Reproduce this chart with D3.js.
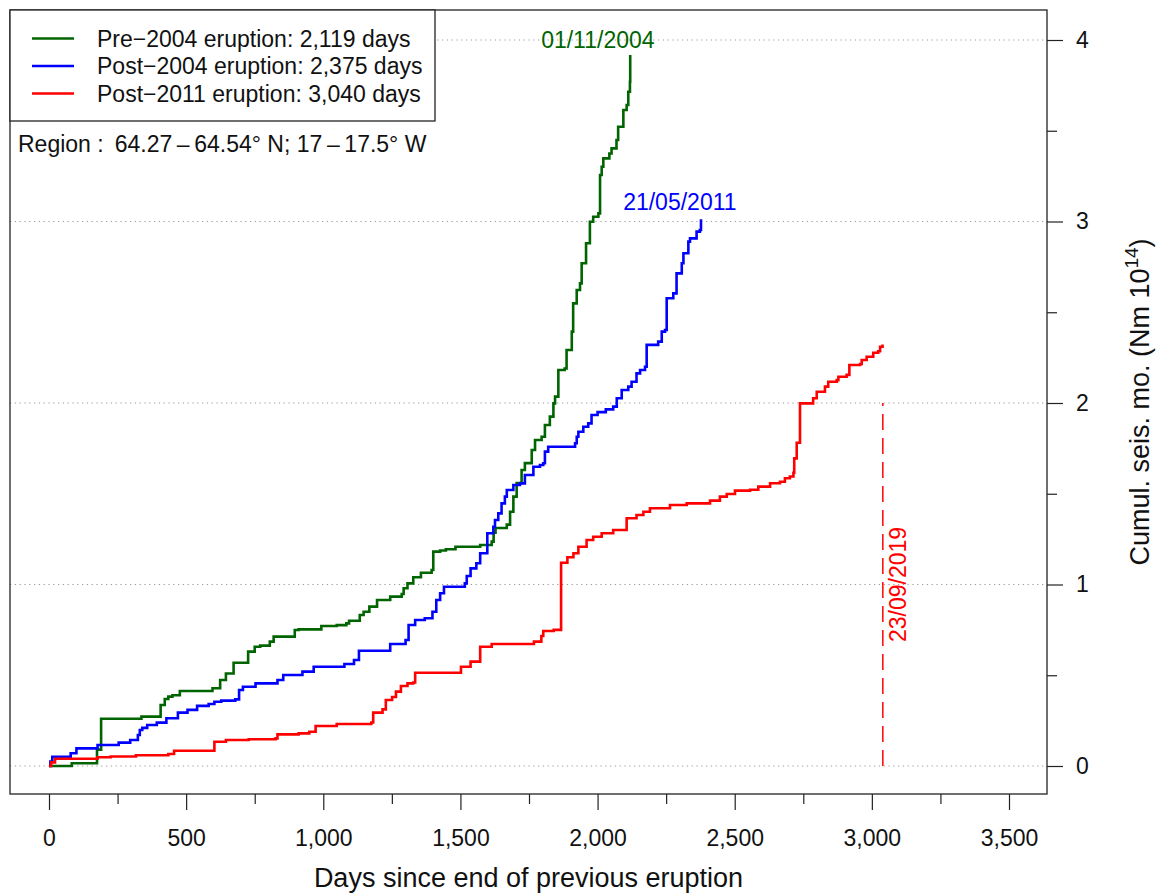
<!DOCTYPE html>
<html>
<head>
<meta charset="utf-8">
<script src="https://cdn.jsdelivr.net/npm/d3@7.9.0/dist/d3.min.js"></script>
<style>
  body { margin: 0; background: #fff; }
  svg text { font-family: "Liberation Sans", Arial, Helvetica, sans-serif; }
</style>
</head>
<body>
<svg id="chart" width="1159" height="894"></svg>
<script>
// series: [day, cumulative seismic moment (10^14 Nm)] step points
const pre2004 = [
  [0, 0], [83, 0.015], [175, 0.09], [190, 0.26], [337, 0.272], [407, 0.336], [422, 0.369],
  [435, 0.382], [450, 0.39], [477, 0.413], [596, 0.428], [624, 0.474], [645, 0.51],
  [673, 0.569], [726, 0.63], [750, 0.657], [770, 0.663], [805, 0.685], [819, 0.713],
  [896, 0.749], [910, 0.753], [993, 0.771], [1049, 0.776], [1084, 0.786], [1094, 0.8],
  [1133, 0.832], [1147, 0.85], [1168, 0.878], [1196, 0.915], [1244, 0.933], [1286, 0.948],
  [1293, 0.979], [1307, 1.006], [1328, 1.04], [1356, 1.065], [1395, 1.08], [1401, 1.181],
  [1426, 1.187], [1447, 1.194], [1482, 1.208], [1572, 1.218], [1614, 1.236], [1621, 1.286],
  [1628, 1.311], [1669, 1.33], [1681, 1.401], [1693, 1.484], [1705, 1.559], [1723, 1.631],
  [1735, 1.669], [1760, 1.741], [1772, 1.796], [1796, 1.814], [1808, 1.879], [1826, 1.925],
  [1839, 1.998], [1845, 2.035], [1857, 2.182], [1880, 2.19], [1887, 2.292], [1906, 2.393],
  [1911, 2.549], [1924, 2.623], [1936, 2.659], [1942, 2.77], [1958, 2.88], [1972, 2.999],
  [1984, 3.026], [2003, 3.045], [2009, 3.256], [2015, 3.302], [2021, 3.348], [2043, 3.375],
  [2051, 3.403], [2069, 3.449], [2075, 3.522], [2094, 3.614], [2106, 3.642], [2112, 3.715],
  [2118, 3.77], [2119, 3.917]
];
const post2004 = [
  [0, 0], [5, 0.025], [12, 0.051], [79, 0.07], [100, 0.097], [177, 0.116], [254, 0.129],
  [296, 0.143], [324, 0.171], [331, 0.198], [340, 0.21], [358, 0.226], [393, 0.239],
  [428, 0.263], [470, 0.294], [505, 0.309], [540, 0.331], [582, 0.342], [603, 0.354],
  [628, 0.36], [679, 0.367], [693, 0.419], [707, 0.437], [753, 0.455], [833, 0.474],
  [854, 0.501], [924, 0.52], [965, 0.547], [1077, 0.562], [1112, 0.584], [1130, 0.635],
  [1244, 0.672], [1300, 0.694], [1311, 0.777], [1335, 0.804], [1370, 0.814], [1398, 0.85],
  [1412, 0.915], [1426, 0.952], [1440, 0.988], [1516, 1.006], [1523, 1.047], [1537, 1.089],
  [1558, 1.117], [1572, 1.172], [1598, 1.282], [1620, 1.318], [1626, 1.355], [1638, 1.392],
  [1650, 1.447], [1662, 1.484], [1669, 1.521], [1693, 1.548], [1717, 1.557], [1735, 1.603],
  [1766, 1.649], [1790, 1.658], [1802, 1.668], [1808, 1.732], [1820, 1.759], [1918, 1.778],
  [1924, 1.814], [1930, 1.842], [1948, 1.869], [1966, 1.888], [1978, 1.934], [2000, 1.95],
  [2030, 1.965], [2057, 1.98], [2070, 2.026], [2088, 2.072], [2112, 2.09], [2124, 2.117],
  [2142, 2.163], [2155, 2.182], [2173, 2.2], [2179, 2.32], [2221, 2.338], [2234, 2.393],
  [2246, 2.402], [2252, 2.577], [2276, 2.604], [2288, 2.714], [2307, 2.77], [2313, 2.825],
  [2331, 2.889], [2337, 2.907], [2361, 2.944], [2373, 2.953], [2377, 3.012]
];
const post2011 = [
  [0, 0], [8, 0.02], [22, 0.04], [177, 0.048], [225, 0.052], [317, 0.059], [435, 0.066],
  [456, 0.084], [603, 0.134], [645, 0.143], [728, 0.147], [826, 0.152], [833, 0.174],
  [910, 0.18], [949, 0.189], [972, 0.22], [1049, 0.231], [1175, 0.24], [1182, 0.294],
  [1216, 0.312], [1228, 0.364], [1251, 0.38], [1265, 0.41], [1283, 0.441], [1307, 0.455],
  [1328, 0.46], [1335, 0.514], [1502, 0.547], [1537, 0.575], [1572, 0.657], [1614, 0.672],
  [1768, 0.685], [1795, 0.716], [1802, 0.744], [1840, 0.75], [1867, 1.12], [1890, 1.15],
  [1912, 1.172], [1930, 1.208], [1960, 1.245], [1984, 1.263], [2015, 1.282], [2057, 1.3],
  [2106, 1.365], [2142, 1.383], [2167, 1.401], [2191, 1.42], [2264, 1.438], [2325, 1.447],
  [2410, 1.462], [2446, 1.484], [2471, 1.499], [2501, 1.517], [2556, 1.522], [2586, 1.539],
  [2629, 1.558], [2665, 1.566], [2683, 1.585], [2701, 1.595], [2714, 1.616], [2717, 1.695],
  [2726, 1.781], [2738, 1.998], [2786, 2.026], [2799, 2.062], [2829, 2.09], [2841, 2.117],
  [2872, 2.126], [2878, 2.145], [2908, 2.155], [2918, 2.209], [2957, 2.215], [2963, 2.237],
  [2981, 2.255], [3005, 2.277], [3023, 2.285], [3030, 2.31], [3039, 2.323]
];

const seriesNames = ['Pre\u22122004 eruption: 2,119 days', 'Post\u22122004 eruption: 2,375 days', 'Post\u22122011 eruption: 3,040 days'];
const seriesColors = ['#006400', '#0000ff', '#ff0000'];
const endLabels = ['01/11/2004', '21/05/2011', '23/09/2019'];
const endLabelPos = [[2001, 4.0], [2300, 3.107], [3040, 1.0]];
const forecastDay = 3040, forecastTop = 2;

const xMajor = d3.range(0, 3501, 500);
const xMinor = d3.range(250, 3500, 500);
const yMajor = [0, 1, 2, 3, 4];
const yMinor = [0.5, 1.5, 2.5, 3.5];

const svg = d3.select('#chart');
const box = { left: 10, right: 1047, top: 10, bottom: 794 };

let x = d3.scaleLinear().domain([0, 3500]).range([49, 1009]);
let y = d3.scaleLinear().domain([0, 4]).range([766, 40]);

// dotted grid lines
svg.append('g')
  .selectAll('line')
  .data(yMajor)
  .join('line')
  .attr('x1', box.left).attr('x2', box.right)
  .attr('y1', d => y(d)).attr('y2', d => y(d))
  .attr('stroke', '#9a9a9a')
  .attr('stroke-width', 1.2)
  .attr('stroke-dasharray', '1.2,3.6');

// curves
let line = d3.line().x(d => x(d[0])).y(d => y(d[1])).curve(d3.curveStepAfter);
[pre2004, post2004, post2011].forEach((s, i) => {
  svg.append('path')
    .attr('d', line(s))
    .attr('fill', 'none')
    .attr('stroke', seriesColors[i])
    .attr('stroke-width', 2.6);
});

// forecast dashed line
svg.append('line')
  .attr('x1', x(forecastDay)).attr('x2', x(forecastDay))
  .attr('y1', y(0)).attr('y2', y(forecastTop))
  .attr('stroke', '#ff0000')
  .attr('stroke-width', 1.5)
  .attr('stroke-dasharray', '16,8');

// end labels
svg.append('text')
  .attr('x', x(endLabelPos[0][0])).attr('y', y(endLabelPos[0][1]) + 8)
  .attr('text-anchor', 'middle').attr('font-size', 23).attr('fill', seriesColors[0])
  .text(endLabels[0]);
svg.append('text')
  .attr('x', x(endLabelPos[1][0])).attr('y', y(endLabelPos[1][1]) + 8)
  .attr('text-anchor', 'middle').attr('font-size', 23).attr('fill', seriesColors[1])
  .text(endLabels[1]);
svg.append('text')
  .attr('transform', `translate(${x(endLabelPos[2][0]) + 23.5},${y(endLabelPos[2][1])}) rotate(-90)`)
  .attr('text-anchor', 'middle').attr('font-size', 23).attr('fill', seriesColors[2])
  .text(endLabels[2]);

// x axis
let xAxis = svg.append('g').attr('transform', `translate(0,${box.bottom})`);
xAxis.call(d3.axisBottom(x).tickValues(xMajor).tickSize(16).tickPadding(20).tickFormat(d3.format(',')));
xAxis.append('g').call(d3.axisBottom(x).tickValues(xMinor).tickSize(10).tickFormat(''));
xAxis.selectAll('.domain').remove();
xAxis.selectAll('line').attr('stroke', '#222').attr('stroke-width', 1.2);
xAxis.selectAll('text').attr('font-size', 23).attr('fill', '#111')
  .style('font-family', '"Liberation Sans", Arial, sans-serif');

// y axis on the right
let yAxis = svg.append('g').attr('transform', `translate(${box.right},0)`);
yAxis.call(d3.axisRight(y).tickValues(yMajor).tickSize(16).tickPadding(13).tickFormat(d3.format('d')));
yAxis.append('g').call(d3.axisRight(y).tickValues(yMinor).tickSize(10).tickFormat(''));
yAxis.selectAll('.domain').remove();
yAxis.selectAll('line').attr('stroke', '#222').attr('stroke-width', 1.2);
yAxis.selectAll('text').attr('font-size', 23).attr('fill', '#111')
  .style('font-family', '"Liberation Sans", Arial, sans-serif');

// plot frame
svg.append('rect')
  .attr('x', box.left).attr('y', box.top)
  .attr('width', box.right - box.left).attr('height', box.bottom - box.top)
  .attr('fill', 'none').attr('stroke', '#222').attr('stroke-width', 1.3);

// legend
let legend = svg.append('g');
legend.append('rect')
  .attr('x', box.left).attr('y', box.top).attr('width', 425).attr('height', 111)
  .attr('fill', '#fff').attr('stroke', '#222').attr('stroke-width', 1.3);
seriesNames.forEach((name, i) => {
  let ly = 38.5 + i * 27.5;
  legend.append('line')
    .attr('x1', 32).attr('x2', 74).attr('y1', ly).attr('y2', ly)
    .attr('stroke', seriesColors[i]).attr('stroke-width', 2.6);
  legend.append('text')
    .attr('x', 97).attr('y', ly + 8.2)
    .attr('font-size', 23).attr('fill', '#111')
    .text(name);
});

svg.append('text')
  .attr('x', 18).attr('y', 152)
  .attr('font-size', 23).attr('fill', '#111')
  .text('Region :\u2009 64.27\u2009\u2013\u200964.54\u00b0 N; 17\u2009\u2013\u200917.5\u00b0 W');

// axis titles
svg.append('text')
  .attr('x', (box.left + box.right) / 2).attr('y', 887)
  .attr('text-anchor', 'middle').attr('font-size', 27).attr('fill', '#111')
  .text('Days since end of previous eruption');

let yTitle = svg.append('text')
  .attr('transform', `translate(1149,${(box.top + box.bottom) / 2}) rotate(-90)`)
  .attr('text-anchor', 'middle').attr('font-size', 27).attr('fill', '#111');
yTitle.append('tspan').text('Cumul. seis. mo. (Nm 10');
yTitle.append('tspan').attr('font-size', 19).attr('dy', -11).text('14');
yTitle.append('tspan').attr('dy', 11).text(')');
</script>
</body>
</html>
